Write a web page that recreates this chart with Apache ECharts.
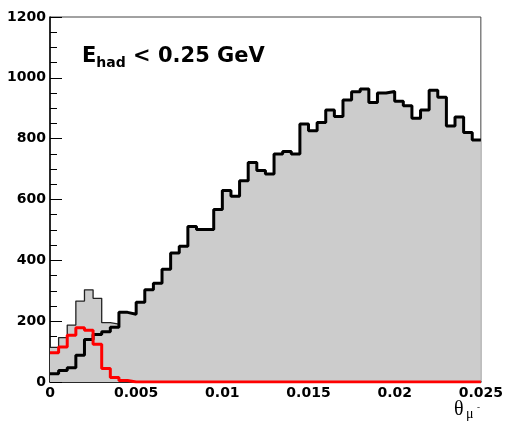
<!DOCTYPE html>
<html><head><meta charset="utf-8">
<script src="https://cdn.jsdelivr.net/npm/echarts@6/dist/echarts.min.js"></script>
<style>html,body{margin:0;padding:0;background:#fff}#c{width:506px;height:425px}</style>
</head><body><div id="c"></div>
<script>
// Histogram: 50 bins of width 0.0005 over [0, 0.025]
const binCount = 50;
const xTickLabels = ['0', '0.005', '0.01', '0.015', '0.02', '0.025'];
const yTickLabels = ['0', '200', '400', '600', '800', '1000', '1200'];

// black histogram (thick black line)
const blackCounts = [27, 38, 47, 88, 140, 156, 165, 180, 229, 223,
  262, 303, 325, 371, 424, 446, 511, 501, 501, 567,
  630, 611, 662, 722, 695, 684, 750, 758, 750, 848,
  826, 853, 894, 873, 927, 954, 963, 919, 950, 955,
  923, 908, 867, 894, 959, 936, 842, 871, 820, 796];

// red histogram
const redCounts = [96, 115, 154, 178, 170, 124, 44, 15, 5, 0,
  0, 0, 0, 0, 0, 0, 0, 0, 0, 0,
  0, 0, 0, 0, 0, 0, 0, 0, 0, 0,
  0, 0, 0, 0, 0, 0, 0, 0, 0, 0,
  0, 0, 0, 0, 0, 0, 0, 0, 0, 0];

// grey filled histogram: first bins differ, the rest coincide with the black one
const grayLowCounts = [114, 146, 187, 266, 303, 275, 195, 190];
const grayCounts = grayLowCounts.concat(blackCounts.slice(grayLowCounts.length));

const xMax = 0.025;
function edge(i) { return i * xMax / binCount; }
function toSteps(vals) {
  const pts = vals.map((v, i) => [edge(i), v]);
  pts.push([xMax, vals[vals.length - 1]]);
  return pts;
}

const FONT = 'DejaVu Sans';
const SERIF = 'Liberation Serif';
const chart = echarts.init(document.getElementById('c'), null, {renderer: 'canvas'});
chart.setOption({
  animation: false,
  backgroundColor: '#fff',
  grid: {left: 50, right: 24, top: 17, bottom: 43, show: true, borderColor: '#444', borderWidth: 1},
  title: {
    left: 82, top: 46, padding: 0,
    text: '{a|E}{b|had}{a| < 0.25 GeV}',
    textStyle: {
      rich: {
        a: {fontFamily: FONT, fontWeight: 'bold', fontSize: 21, color: '#000', lineHeight: 24, verticalAlign: 'top'},
        b: {fontFamily: FONT, fontWeight: 'bold', fontSize: 14, color: '#000', lineHeight: 6, verticalAlign: 'bottom'}
      }
    }
  },
  graphic: [
    {type: 'text', left: 454, top: 400, style: {text: 'θ', font: '20px "' + SERIF + '"', fill: '#000'}},
    {type: 'text', left: 466, top: 407, style: {text: 'μ', font: '14px "' + SERIF + '"', fill: '#000'}},
    {type: 'text', left: 477, top: 403, style: {text: '-', font: '9px "' + SERIF + '"', fill: '#000'}}
  ],
  xAxis: {
    type: 'value', min: 0, max: xMax, interval: 0.005,
    axisLine: {lineStyle: {color: '#000', width: 1.5}},
    axisTick: {show: false},
    splitLine: {show: false},
    axisLabel: {
      fontFamily: FONT, fontWeight: 'bold', fontSize: 14, color: '#000', margin: 4,
      formatter: (v) => xTickLabels[Math.round(v / 0.005)]
    }
  },
  yAxis: {
    type: 'value', min: 0, max: 1200, interval: 200,
    axisLine: {show: true, lineStyle: {color: '#000', width: 1.5}},
    axisTick: {show: true, inside: true, length: 12, lineStyle: {color: '#000', width: 1}},
    minorTick: {show: true, splitNumber: 4, length: 7, lineStyle: {color: '#000', width: 1}},
    splitLine: {show: false},
    axisLabel: {
      fontFamily: FONT, fontWeight: 'bold', fontSize: 14, color: '#000', margin: 4,
      formatter: (v) => yTickLabels[Math.round(v / 200)]
    }
  },
  series: [
    {type: 'line', step: 'end', symbol: 'none', data: toSteps(grayCounts), z: 1,
     lineStyle: {color: '#222', width: 1.3}, areaStyle: {color: '#cccccc', opacity: 1}},
    {type: 'line', step: 'end', symbol: 'none', data: toSteps(blackCounts), z: 2,
     lineStyle: {color: '#000', width: 3}},
    {type: 'line', step: 'end', symbol: 'none', data: toSteps(redCounts), z: 3,
     lineStyle: {color: '#ff0000', width: 3}}
  ]
});
</script></body></html>
